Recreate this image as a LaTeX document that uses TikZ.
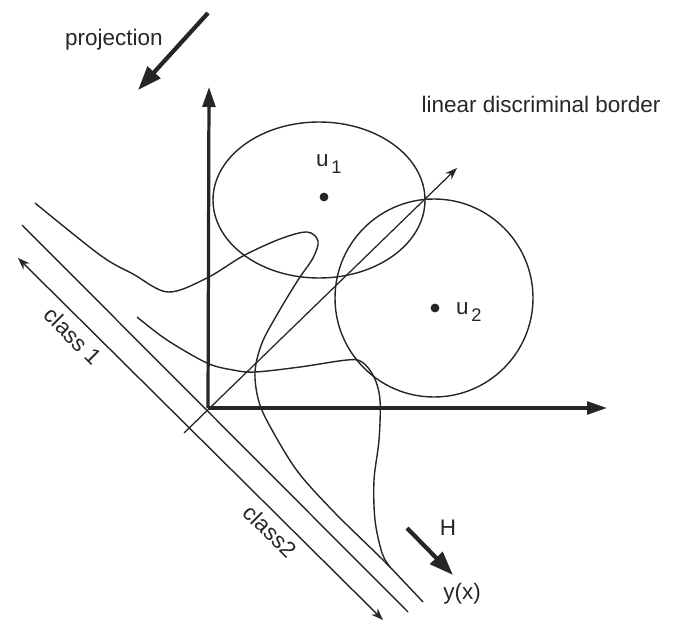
\documentclass[tikz,border=0pt]{standalone}
\usepackage{fontspec}
\setmainfont{Liberation Sans}
\usetikzlibrary{arrows.meta, positioning, calc}
\definecolor{cink}{HTML}{262626}
\tikzset{
  every picture/.style={line width=0.9pt},
  axis/.style={-{Triangle[length=5mm, width=3.2mm]}, line width=2.3pt, draw=cink},
  bigarrow/.style={-{Triangle[length=6mm, width=4.2mm]}, line width=3pt, draw=cink},
  thinarrow/.style={-{Stealth[length=3mm, width=2.2mm]}, line width=0.9pt, draw=cink},
  curve/.style={line width=1pt, draw=cink},
  lbl/.style={font=\fontsize{16}{19}\selectfont, text=cink, inner sep=1pt},
  dot/.style={circle, fill=cink, inner sep=0pt, minimum size=2.2mm},
}
\newcommand{\subidx}[1]{\hspace{2pt}\raisebox{-0.6ex}{\fontsize{13}{15}\selectfont #1}}

\begin{document}
\begin{tikzpicture}[x=0.025cm, y=-0.025cm]
  \useasboundingbox (0,0) rectangle (675,623);
  % axes and border
  \coordinate (O) at (208,408);
  \coordinate (ytip) at (209,87);
  \coordinate (xtip) at (607,408);
  \coordinate (btick) at (184,433);
  \coordinate (btip) at (457,168);
  \draw[axis] (O) -- (ytip);
  \draw[axis] (O) -- (xtip);
  \draw[thinarrow] (btick) -- (btip);
  \node[lbl] (borderlbl) at (541,104) {linear discriminal border};
  % class distributions
  \draw[curve] (319,200) ellipse [x radius=106, y radius=78];
  \draw[curve] (434,298) circle [radius=99];
  \node[dot] (m1) at (324,197) {};
  \node[dot] (m2) at (435,308) {};
  \node[lbl, anchor=base west] (u1lbl) at (314,166) {u\subidx{1}};
  \node[lbl, anchor=base west] (u2lbl) at (454,314) {u\subidx{2}};
  % nonlinear borders
  \draw[curve] plot[smooth, tension=0.55] coordinates {(35,203) (100,255) (133,274) (168,292) (207,278) (243,256) (280,239) (307,232) (318,241) (313,258) (298,280) (278,313) (262,343) (255,372) (259,402) (272,430) (298,472) (335,513) (385,562) (423,602)};
  \draw[curve] plot[smooth, tension=0.55] coordinates {(137,317) (167,340) (207,363) (233,370) (255,372) (300,367) (347,360) (362,362) (374,377) (380,400) (379,440) (374,480) (375,520) (382,553) (390,567)};
  % projection axis
  \coordinate (c1a) at (18,258);
  \coordinate (c1b) at (383,620);
  \coordinate (c2a) at (22,225);
  \coordinate (c2b) at (408,612);
  \draw[curve, {Stealth[length=3mm, width=2.2mm]}-{Stealth[length=3mm, width=2.2mm]}] (c1a) -- (c1b);
  \draw[curve] (c2a) -- (c2b);
  \node[lbl, rotate=-45] (class1lbl) at (73,336) {class 1};
  \node[lbl, rotate=-45] (class2lbl) at (270,531) {class2};
  % direction arrows
  \coordinate (projstart) at (208,13);
  \coordinate (projend) at (138,90);
  \draw[bigarrow] (projstart) -- (projend);
  \node[lbl] (projlbl) at (114,40) {projection};
  \coordinate (hstart) at (407,528);
  \coordinate (hend) at (453,575);
  \draw[bigarrow] (hstart) -- (hend);
  \node[lbl] (hlbl) at (448,528) {H};
  \node[lbl] (ylbl) at (462,594) {y(x)};
\end{tikzpicture}
\end{document}
